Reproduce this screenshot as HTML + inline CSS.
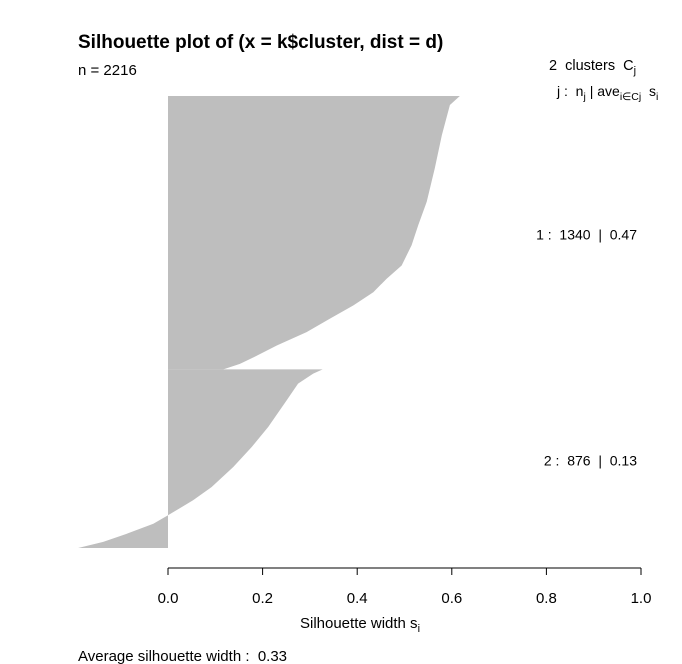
<!DOCTYPE html>
<html><head><meta charset="utf-8"><style>
html,body{margin:0;padding:0;background:#fff;}
svg{display:block;font-family:"Liberation Sans",Arial,sans-serif;}
svg text{white-space:pre;}
</style></head><body>
<svg id="chart" width="682" height="664" viewBox="0 0 682 664" xml:space="preserve">
<text x="78" y="48" font-size="19" font-weight="bold">Silhouette plot of (x = k$cluster, dist = d)</text>
<text x="78" y="75" font-size="15">n = 2216</text>
<text x="549" y="70" font-size="14.5">2  clusters  C<tspan font-size="11" dy="4">j</tspan></text>
<text x="557" y="96" font-size="14">j :  n<tspan font-size="10.5" dy="4">j</tspan><tspan dy="-4"> | ave</tspan><tspan font-size="10.5" dy="4">i∈Cj</tspan><tspan dy="-4">  s</tspan><tspan font-size="10.5" dy="4">i</tspan></text>
<g id="bars"></g>
<line x1="168" y1="568" x2="641" y2="568" stroke="#000"/>
<g id="ticks"></g>
<text x="360" y="628" font-size="15" text-anchor="middle">Silhouette width s<tspan font-size="11" dy="4">i</tspan></text>
<text x="78" y="661" font-size="15">Average silhouette width :  0.33</text>
</svg>
<script>
const clusterNames = ["1", "2"];
const clusterSizes = [1340, 876];
const clusterAvg = ["0.47", "0.13"];
const c1Quantiles = [0, 0.033, 0.143, 0.265, 0.387, 0.473, 0.546, 0.620, 0.669, 0.718, 0.766, 0.815, 0.864, 0.913, 0.950, 0.980, 1.0];
const c1Widths = [0.617, 0.596, 0.579, 0.564, 0.547, 0.529, 0.515, 0.494, 0.462, 0.434, 0.392, 0.342, 0.293, 0.230, 0.188, 0.152, 0.117];
const c2Quantiles = [0, 0.024, 0.080, 0.173, 0.322, 0.435, 0.547, 0.659, 0.733, 0.817, 0.864, 0.920, 0.966, 1.0];
const c2Widths = [0.327, 0.307, 0.275, 0.251, 0.212, 0.177, 0.138, 0.092, 0.053, 0.0, -0.031, -0.087, -0.137, -0.190];
const tickValues = [0, 0.2, 0.4, 0.6, 0.8, 1.0];
const tickLabels = ["0.0", "0.2", "0.4", "0.6", "0.8", "1.0"];

const NS = "http://www.w3.org/2000/svg";
const xs = v => 168 + v * 473;
const total = clusterSizes.reduce((a, b) => a + b, 0);
const yTop = 96, yBot = 548;
const ys = i => yTop + i / total * (yBot - yTop);

const bars = document.getElementById("bars");
const qs = [c1Quantiles, c2Quantiles], ws = [c1Widths, c2Widths];
let start = 0;
for (let c = 0; c < clusterSizes.length; c++) {
  const n = clusterSizes[c];
  let d = "M" + xs(0) + "," + ys(start);
  for (let k = 0; k < qs[c].length; k++) {
    d += " L" + xs(ws[c][k]) + "," + ys(start + qs[c][k] * n);
  }
  d += " L" + xs(0) + "," + ys(start + n) + " Z";
  const p = document.createElementNS(NS, "path");
  p.setAttribute("d", d);
  p.setAttribute("fill", "#bebebe");
  
  
  bars.appendChild(p);
  const t = document.createElementNS(NS, "text");
  t.setAttribute("x", 637);
  t.setAttribute("y", ys(start + n / 2) + 7);
  t.setAttribute("font-size", "14");
  t.setAttribute("text-anchor", "end");
  t.textContent = clusterNames[c] + " :  " + clusterSizes[c] + "  |  " + clusterAvg[c];
  
  
  bars.appendChild(t);
  start += n;
}
const ticks = document.getElementById("ticks");
tickValues.forEach((v, i) => {
  const l = document.createElementNS(NS, "line");
  l.setAttribute("x1", xs(v)); l.setAttribute("x2", xs(v));
  l.setAttribute("y1", 568); l.setAttribute("y2", 575);
  l.setAttribute("stroke", "#000");
  
  
  ticks.appendChild(l);
  const t = document.createElementNS(NS, "text");
  t.setAttribute("x", xs(v)); t.setAttribute("y", 603);
  t.setAttribute("font-size", "15");
  t.setAttribute("text-anchor", "middle");
  t.textContent = tickLabels[i];
  
  
  ticks.appendChild(t);
});
</script>
</body></html>
